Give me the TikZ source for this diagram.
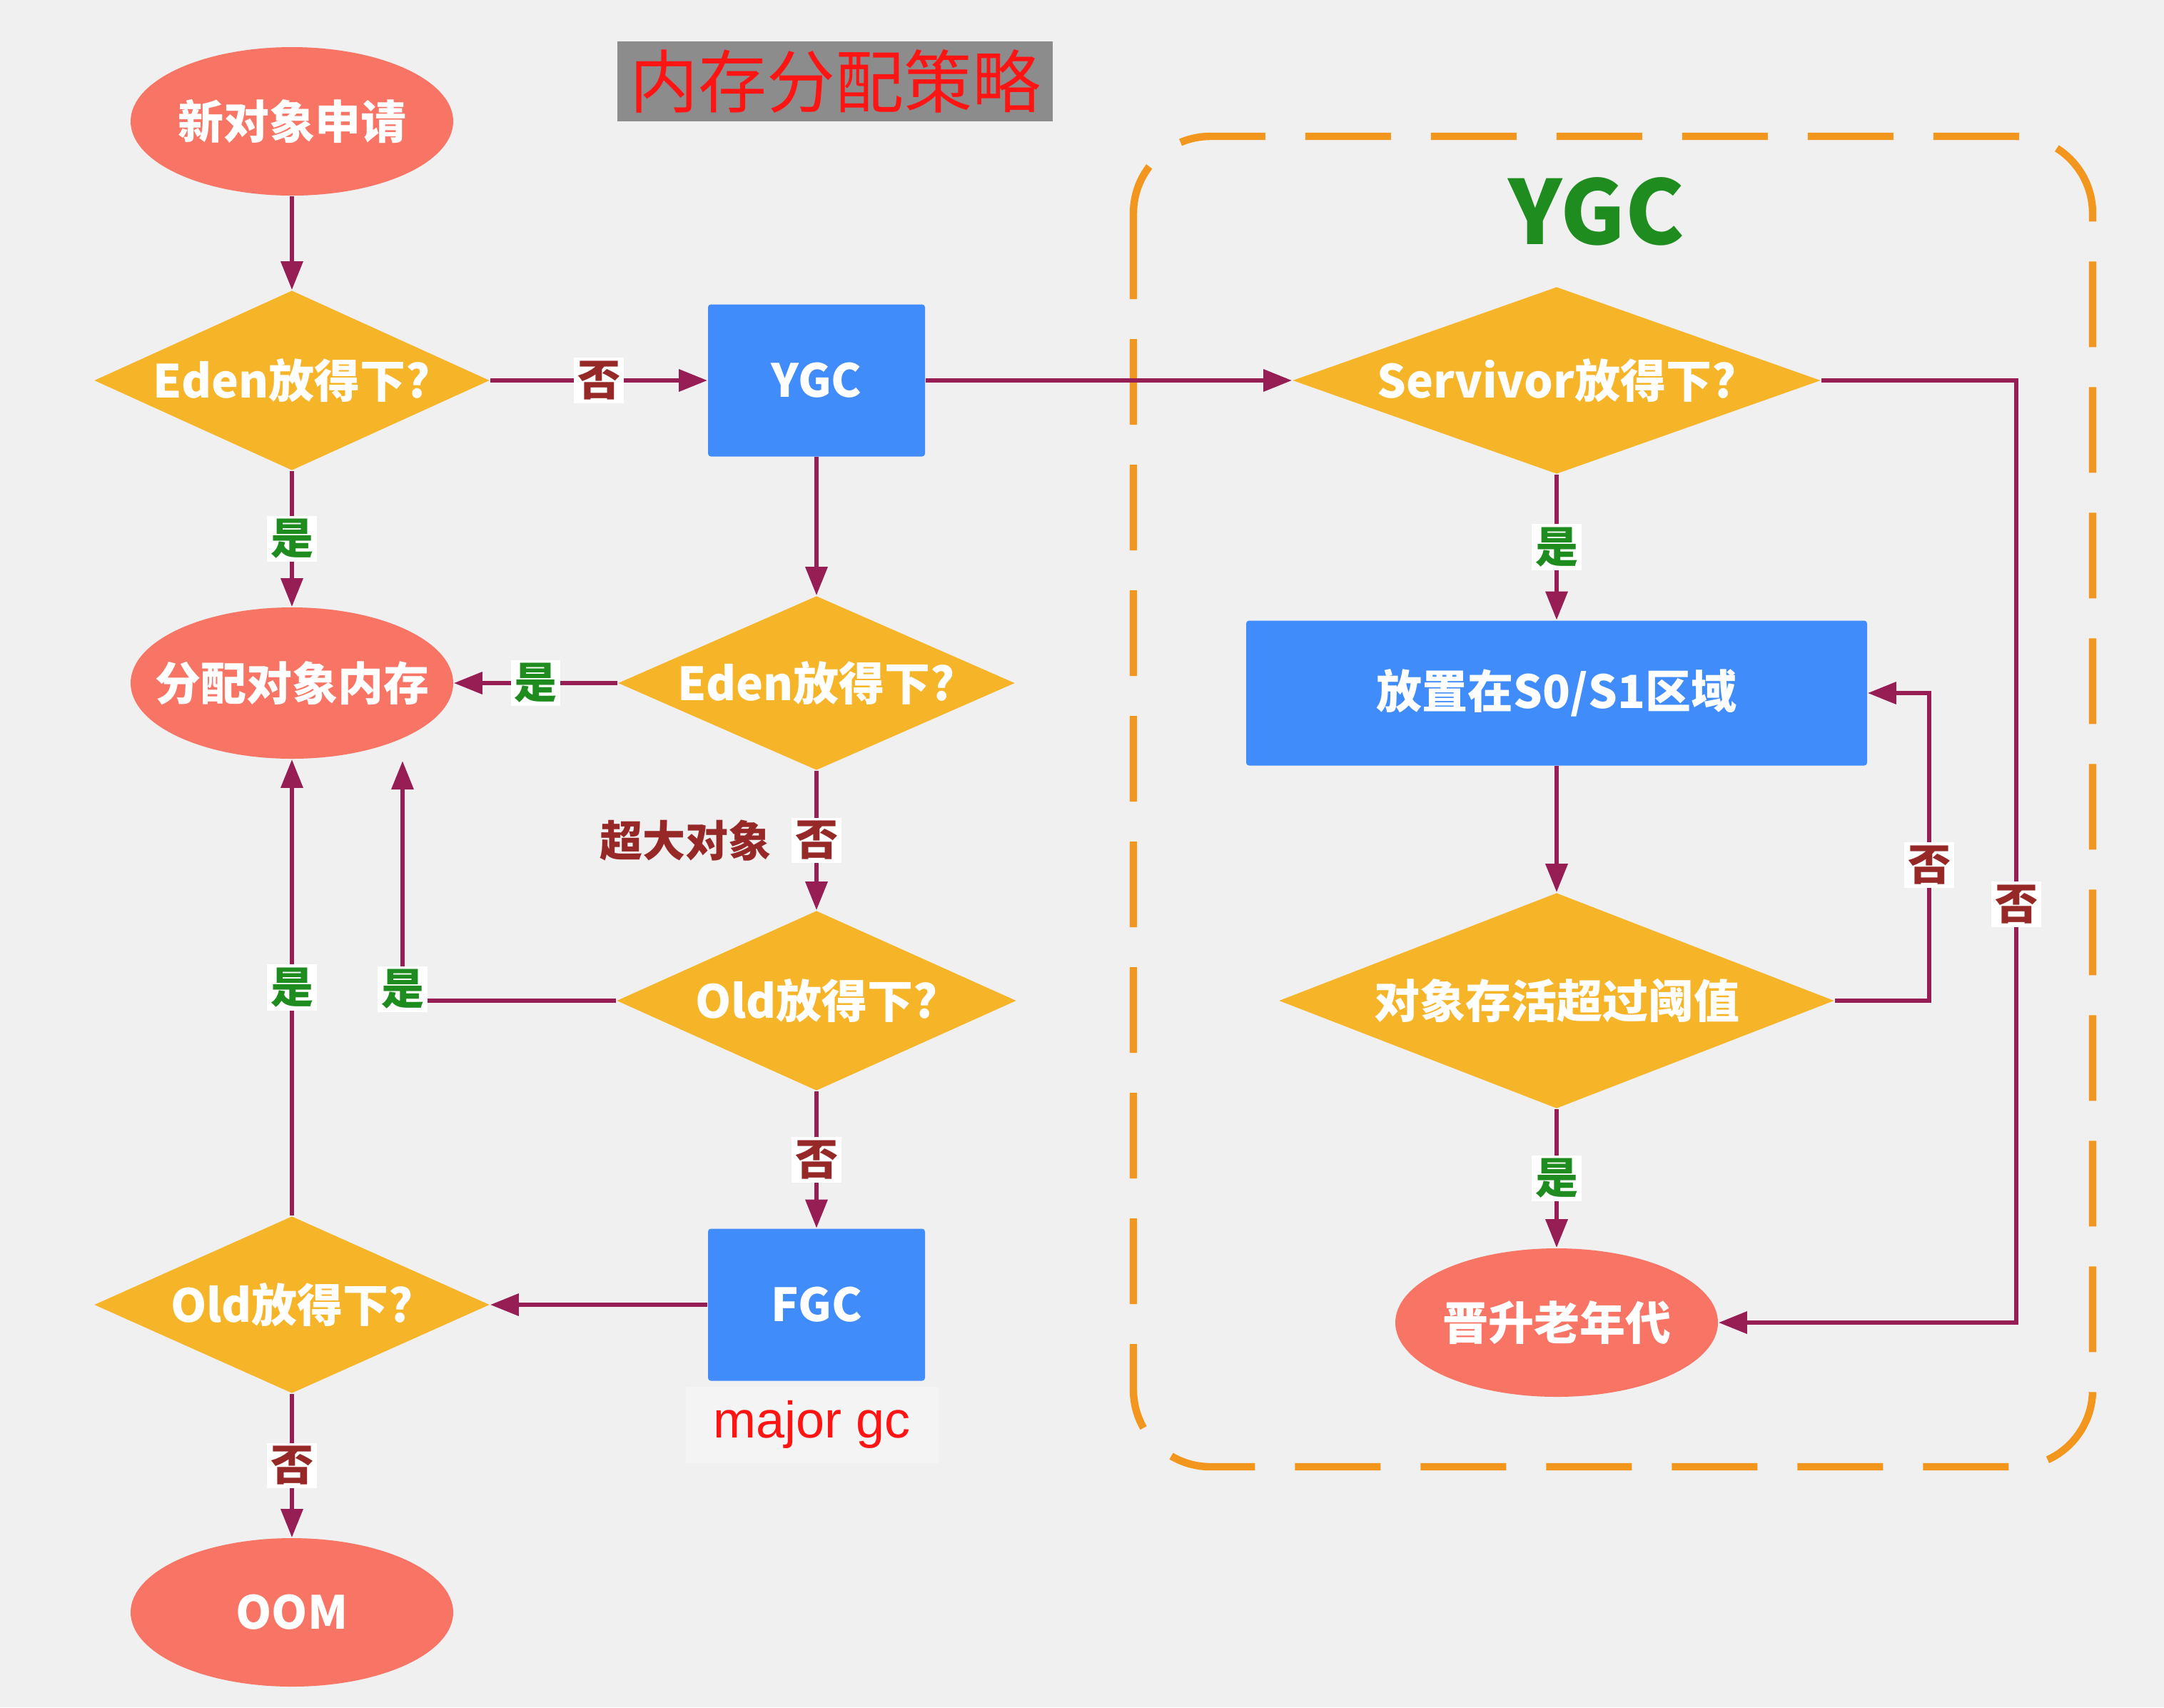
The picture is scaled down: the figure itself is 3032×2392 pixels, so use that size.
\documentclass[tikz,border=0pt]{standalone}
\usepackage{fontspec}
\setmainfont{Noto Sans CJK SC}
\newfontfamily\arialf{Liberation Sans}
\usetikzlibrary{shapes.geometric,arrows.meta}
\definecolor{bgc}{RGB}{240,240,240}
\definecolor{ellc}{RGB}{248,117,101}
\definecolor{diac}{RGB}{246,181,41}
\definecolor{boxc}{RGB}{64,140,250}
\definecolor{conn}{RGB}{150,30,85}
\definecolor{noc}{RGB}{150,40,40}
\definecolor{yesc}{RGB}{30,140,30}
\definecolor{dashc}{RGB}{243,150,30}
\definecolor{ttlbg}{RGB}{140,140,140}
\definecolor{ttlfg}{RGB}{255,20,20}
\definecolor{mgcbg}{RGB}{244,244,244}
\newcommand\zb[1]{\makebox[0pt]{#1}}
\tikzset{
  ntext/.style={text=white, font=\bfseries\fontsize{16}{18}\selectfont},
  ell/.style={ellipse, fill=ellc, draw=none, inner sep=0pt, minimum width=113pt, minimum height=52pt, ntext},
  dia/.style={diamond, fill=diac, draw=none, inner sep=0pt, ntext},
  blk/.style={rectangle, fill=boxc, draw=none, inner sep=0pt, rounded corners=1pt, ntext},
  arr/.style={draw=conn, line width=1.6pt, -{Triangle[length=10pt,width=7.5pt]}},
  lbl/.style={fill=white, inner sep=1.2pt, font=\bfseries\fontsize{15}{16}\selectfont},
  nolbl/.style={lbl, text=noc},
  yeslbl/.style={lbl, text=yesc},
}
\begin{document}
\begin{tikzpicture}[x=0.25pt,y=-0.25pt]
\fill[bgc] (0,0) rectangle (3032,2392);
\useasboundingbox (0,0) rectangle (3032,2392);

% dashed YGC region
\draw[dashc, line width=2.6pt, dash pattern=on 30pt off 14pt, rounded corners=27pt] (1588,191) rectangle (2932,2055);

% title
\node[fill=ttlbg, text=ttlfg, inner sep=0pt, minimum width=152.5pt, minimum height=28pt, font=\fontsize{24}{26}\selectfont] (ttl) at (1170,114) {内存分配策略};
\node[text=yesc, font=\bfseries\fontsize{31}{34}\selectfont, inner sep=0pt] (ygct) at (2237,296) {YGC};

% nodes
\node[ell] (start) at (409,170) {\zb{新对象申请}};
\node[dia, minimum width=138.5pt, minimum height=63pt] (eden1) at (409,533) {\zb{Eden放得下?}};
\node[blk, minimum width=76pt, minimum height=53.25pt] (ygc) at (1144,533) {YGC};
\node[dia, minimum width=185pt, minimum height=65.5pt] (surv) at (2181,533) {\zb{Servivor放得下?}};
\node[ell, minimum height=53pt] (alloc) at (409,957) {\zb{分配对象内存}};
\node[dia, minimum width=139pt, minimum height=61pt] (eden2) at (1144,957) {\zb{Eden放得下?}};
\node[blk, minimum width=217.5pt, minimum height=50.75pt] (place) at (2181,971) {放置在S0/S1区域};
\node[dia, minimum width=140pt, minimum height=63pt] (old1) at (1144,1402) {\zb{Old放得下?}};
\node[dia, minimum width=194.5pt, minimum height=75.5pt] (cond) at (2181,1402) {\zb{对象存活超过阈值}};
\node[dia, minimum width=138.5pt, minimum height=62pt] (old2) at (409,1828) {\zb{Old放得下?}};
\node[blk, minimum width=76pt, minimum height=53.25pt] (fgc) at (1144,1828) {FGC};
\node[fill=mgcbg, text=ttlfg, inner sep=0pt, minimum width=88.5pt, minimum height=26.75pt, font=\arialf\fontsize{18}{20}\selectfont] (mgc) at (1138,1996) {major gc};
\node[ell] (promote) at (2181,1853) {\zb{晋升老年代}};
\node[ell] (oom) at (409,2259) {\zb{OOM}};

% helper coordinates
\coordinate (a1) at (564,1066);
\coordinate (c2) at (2703,1402);
\coordinate (c3) at (2825,533);

% connectors
\draw[arr] (start) -- (eden1);
\draw[arr] (eden1) -- node[nolbl]{否} (ygc);
\draw[arr] (eden1) -- node[yeslbl]{是} (alloc);
\draw[arr] (ygc) -- (surv);
\draw[arr] (ygc) -- (eden2);
\draw[arr] (eden2) -- node[yeslbl]{是} (alloc);
\draw[arr] (eden2) -- node[nolbl]{否} node[left=15pt, inner sep=0pt, text=noc, font=\bfseries\fontsize{15}{16}\selectfont]{超大对象} (old1);
\draw[arr] (old1.west) -| node[yeslbl, pos=0.5, yshift=4pt]{是} (a1);
\draw[arr] (old2) -- node[yeslbl]{是} (alloc);
\draw[arr] (old1) -- node[nolbl]{否} (fgc);
\draw[arr] (fgc) -- (old2);
\draw[arr] (old2) -- node[nolbl]{否} (oom);
\draw[arr] (surv) -- node[yeslbl]{是} (place);
\draw[arr] (place) -- (cond);
\draw[arr] (cond) -- node[yeslbl]{是} (promote);
\draw[arr] (cond.east) -- (c2) |- node[nolbl, pos=0.22]{否} (place.east);
\draw[arr] (surv.east) -- (c3) |- node[nolbl, pos=0.278]{否} (promote.east);
\end{tikzpicture}
\end{document}
